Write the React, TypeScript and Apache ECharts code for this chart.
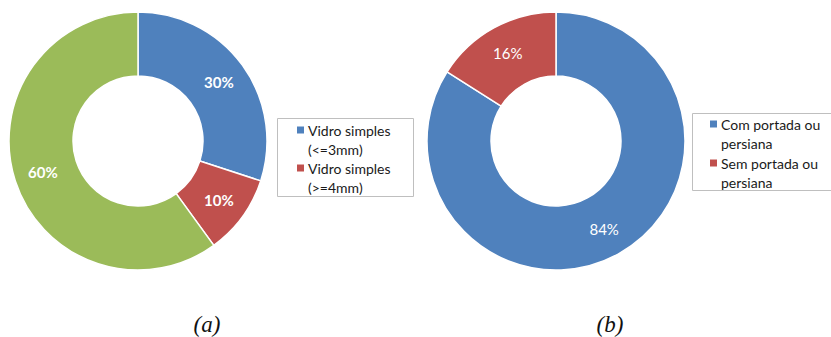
import React, { useEffect, useRef } from "react";
import * as echarts from "echarts";

const namesA = ["Vidro simples (<=3mm)", "Vidro simples (>=4mm)", "Outro"];
const valuesA = [30, 10, 60];
const legendA = [["Vidro simples", "(<=3mm)"], ["Vidro simples", "(>=4mm)"]];

const namesB = ["Com portada ou persiana", "Sem portada ou persiana"];
const valuesB = [84, 16];
const legendB = [["Com portada ou", "persiana"], ["Sem portada ou", "persiana"]];

const captions = ["(a)", "(b)"];

const BLUE = "#4F81BD";
const RED = "#C0504D";
const GREEN = "#9BBB59";

function legendGraphic(x: number, y: number, w: number, h: number, lines: string[][], colors: string[], markerX: number, firstLineY: number, lineH: number) {
  const children: any[] = [
    { type: "rect", shape: { x, y, width: w, height: h }, style: { fill: "#fff", stroke: "#BFBFBF", lineWidth: 1 } },
  ];
  let cy = firstLineY;
  lines.forEach((item, i) => {
    children.push({ type: "rect", shape: { x: markerX, y: cy - 3.5, width: 7, height: 7 }, style: { fill: colors[i] } });
    item.forEach((t) => {
      children.push({
        type: "text",
        x: markerX + 11,
        y: cy,
        style: { text: t, fill: "#1a1a1a", font: "14px Lato", textVerticalAlign: "middle", verticalAlign: "middle" },
      });
      cy += lineH;
    });
  });
  return { type: "group", children };
}

export default function App() {
  const ref = useRef<HTMLDivElement>(null);
  useEffect(() => {
    if (!ref.current) return;
    const chart = echarts.init(ref.current, null, { renderer: "svg" });
    chart.setOption({
      animation: false,
      backgroundColor: "#fff",
      series: [
        {
          type: "pie",
          center: [138, 141],
          radius: [65, 129],
          startAngle: 90,
          clockwise: true,
          silent: true,
          itemStyle: { borderColor: "#fff", borderWidth: 1.5 },
          label: {
            show: true,
            position: "inside",
            formatter: "{c}%",
            color: "#fff",
            fontFamily: "Lato",
            fontWeight: "bold",
            fontSize: 15,
          },
          labelLine: { show: false },
          data: namesA.map((n, i) => ({ name: n, value: valuesA[i], itemStyle: { color: [BLUE, RED, GREEN][i] } })),
        },
        {
          type: "pie",
          center: [556, 141],
          radius: [65, 129],
          startAngle: 90,
          clockwise: true,
          silent: true,
          itemStyle: { borderColor: "#fff", borderWidth: 1.5 },
          label: {
            show: true,
            position: "inside",
            formatter: "{c}%",
            color: "#fff",
            fontFamily: "Lato",
            fontSize: 15,
          },
          labelLine: { show: false },
          data: namesB.map((n, i) => ({ name: n, value: valuesB[i], itemStyle: { color: [BLUE, RED][i] } })),
        },
      ],
      graphic: [
        legendGraphic(277.5, 118.5, 136, 78, legendA, [BLUE, RED], 297, 130, 19),
        legendGraphic(692.5, 113.5, 145, 77, legendB, [BLUE, RED], 710, 124, 19.5),
        {
          type: "text",
          x: 207,
          y: 324,
          style: { text: captions[0], fill: "#111", font: "italic 23px 'Liberation Serif'", align: "center", verticalAlign: "middle", textAlign: "center", textVerticalAlign: "middle" },
        },
        {
          type: "text",
          x: 610,
          y: 324,
          style: { text: captions[1], fill: "#111", font: "italic 23px 'Liberation Serif'", align: "center", verticalAlign: "middle", textAlign: "center", textVerticalAlign: "middle" },
        },
      ],
    });
    return () => chart.dispose();
  }, []);
  return <div ref={ref} style={{ position: "absolute", left: 0, top: 0, width: 831, height: 337 }} />;
}
